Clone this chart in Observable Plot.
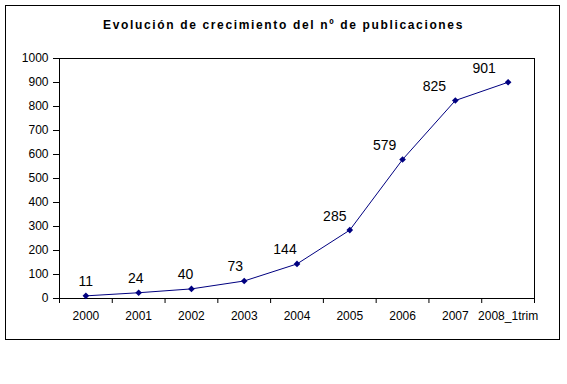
<!DOCTYPE html>
<html>
<head>
<meta charset="utf-8">
<script src="https://cdn.jsdelivr.net/npm/d3@7"></script>
<script src="https://cdn.jsdelivr.net/npm/@observablehq/plot@0.6"></script>
<style>
  html, body { margin: 0; padding: 0; background: #fff; }
  #wrap { position: relative; width: 567px; height: 384px; background: #fff; overflow: hidden; }
  #box { position: absolute; left: 5px; top: 5px; width: 553px; height: 333px; border: 1px solid #000; }
  #title { position: absolute; left: 0; top: 18px; width: 567px; text-align: center; font: bold 12px Arial, "Liberation Sans", sans-serif; line-height: 14px; letter-spacing: 1.65px; color: #000; z-index: 2; }
  #chart { position: absolute; left: 0; top: 0; z-index: 1; }
</style>
</head>
<body>
<div id="wrap">
  <div id="box"></div>
  <div id="title">Evolución de crecimiento del nº de publicaciones</div>
  <div id="chart"></div>
</div>
<script>
const categories = ["2000", "2001", "2002", "2003", "2004", "2005", "2006", "2007", "2008_1trim"];
const values = [11, 24, 40, 73, 144, 285, 579, 825, 901];
const yTicks = [0, 100, 200, 300, 400, 500, 600, 700, 800, 900, 1000];

const data = categories.map((c, i) => ({cat: c, x: i + 0.5, v: values[i]}));
const boundaries = d3.range(0, categories.length + 1);
const centers = data.map(d => d.x);

const chart = Plot.plot({
  width: 567,
  height: 384,
  marginLeft: 59,
  marginRight: 33,
  marginTop: 58,
  marginBottom: 86,
  style: {fontFamily: "Arial, 'Liberation Sans', sans-serif", fontSize: "12px", background: "transparent", color: "#000"},
  x: {type: "linear", domain: [0, categories.length], axis: null},
  y: {domain: [0, 1000], axis: null},
  marks: [
    Plot.frame({stroke: "#000"}),
    Plot.axisY(yTicks, {tickSize: 6, tickPadding: 5, fontSize: 12, label: null, tickFormat: d => String(d)}),
    Plot.axisX(boundaries, {tickSize: 5, label: null, tickFormat: () => ""}),
    Plot.axisX(centers, {tickSize: 0, tickPadding: 13, fontSize: 12, label: null, tickFormat: x => categories[Math.round(x - 0.5)]}),
    Plot.line(data, {x: "x", y: "v", stroke: "#000080", strokeWidth: 1}),
    Plot.dot(data, {x: "x", y: "v", symbol: "diamond2", r: 3, fill: "#000080", stroke: "none"}),
    ...data.map((d, i) => Plot.text([d], {
      x: "x", y: "v", text: t => String(t.v),
      dx: -3 * i, dy: -14, fontSize: 14, fontFamily: "Arial, 'Liberation Sans', sans-serif", fill: "#000"
    }))
  ]
});
document.getElementById("chart").appendChild(chart);
</script>
</body>
</html>
